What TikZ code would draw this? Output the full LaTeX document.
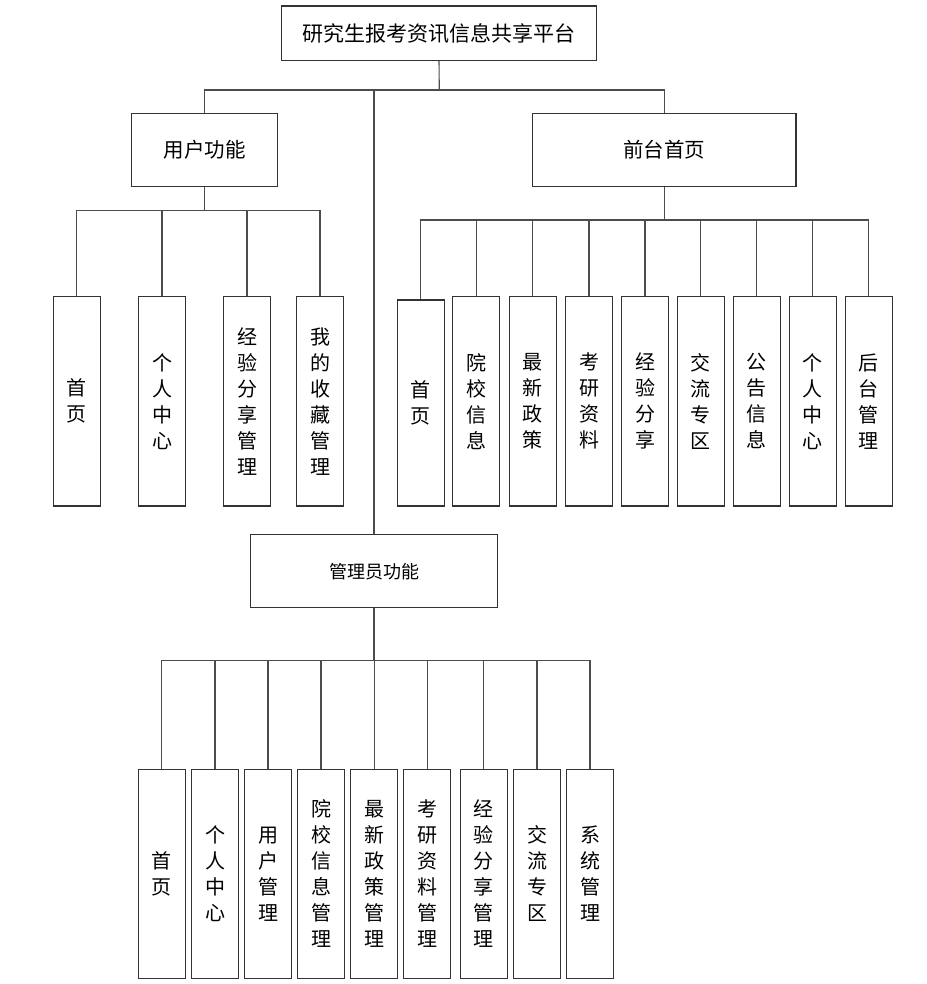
\documentclass[tikz,border=0pt]{standalone}
\usepackage{fontspec}
\newfontfamily\cjk{Noto Sans CJK SC}
\begin{document}
\begin{tikzpicture}[x=1pt,y=-1pt,
  box/.style={draw=black!80, line width=1.1pt, fill=white, inner sep=0pt, align=center},
  topbox/.style={box, font=\cjk\fontsize{21}{24}\selectfont},
  midbox/.style={box, font=\cjk\fontsize{20.5}{24}\selectfont},
  admbox/.style={box, font=\cjk\fontsize{18}{20}\selectfont},
  vbox/.style={box, minimum width=47pt, font=\cjk\fontsize{20}{26}\selectfont},
  conn/.style={draw=black!70, line width=1.1pt}]
\useasboundingbox (0,0) rectangle (926,984);
% top level
\node[topbox, minimum width=315pt, minimum height=54.5pt] (top) at (439,33.3) {研究生报考资讯信息共享平台};
\node[midbox, minimum width=145.6pt, minimum height=73pt] (uf) at (204.5,149.8) {用户功能};
\node[midbox, minimum width=263.3pt, minimum height=73pt] (qt) at (664.3,149.8) {前台首页};
\node[admbox, minimum width=247pt, minimum height=73pt] (gl) at (374,571.2) {管理员功能};
\coordinate (b0) at (439.3,90);
\coordinate (b1) at (204.5,210.3);
\coordinate (b2) at (664.3,220);
\coordinate (b3) at (374,660.7);
% user function children
\node[vbox, minimum height=209.3pt] (u1) at (76.7,401.3) {首\\页};
\node[vbox, minimum height=209.3pt] (u2) at (162,401.3) {个\\人\\中\\心};
\node[vbox, minimum height=209.3pt] (u3) at (247,401.3) {经\\验\\分\\享\\管\\理};
\node[vbox, minimum height=209.3pt] (u4) at (320,401.3) {我\\的\\收\\藏\\管\\理};
% front page children
\node[vbox, minimum height=206pt] (q1) at (420.8,403) {首\\页};
\node[vbox, minimum height=209.3pt] (q2) at (476.3,401.3) {院\\校\\信\\息};
\node[vbox, minimum height=209.3pt] (q3) at (532.7,401.3) {最\\新\\政\\策};
\node[vbox, minimum height=209.3pt] (q4) at (589,401.3) {考\\研\\资\\料};
\node[vbox, minimum height=209.3pt] (q5) at (645,401.3) {经\\验\\分\\享};
\node[vbox, minimum height=209.3pt] (q6) at (700.7,401.3) {交\\流\\专\\区};
\node[vbox, minimum height=209.3pt] (q7) at (756.7,401.3) {公\\告\\信\\息};
\node[vbox, minimum height=209.3pt] (q8) at (812.7,401.3) {个\\人\\中\\心};
\node[vbox, minimum height=209.3pt] (q9) at (868.7,401.3) {后\\台\\管\\理};
% admin children
\node[vbox, minimum height=209.7pt] (g1) at (161.7,873.9) {首\\页};
\node[vbox, minimum height=209.7pt] (g2) at (215,873.9) {个\\人\\中\\心};
\node[vbox, minimum height=209.7pt] (g3) at (268,873.9) {用\\户\\管\\理};
\node[vbox, minimum height=209.7pt] (g4) at (321,873.9) {院\\校\\信\\息\\管\\理};
\node[vbox, minimum height=209.7pt] (g5) at (374.3,873.9) {最\\新\\政\\策\\管\\理};
\node[vbox, minimum height=209.7pt] (g6) at (427.3,873.9) {考\\研\\资\\料\\管\\理};
\node[vbox, minimum height=209.7pt] (g7) at (483.7,873.9) {经\\验\\分\\享\\管\\理};
\node[vbox, minimum height=209.7pt] (g8) at (537,873.9) {交\\流\\专\\区};
\node[vbox, minimum height=209.7pt] (g9) at (590,873.9) {系\\统\\管\\理};
% connectors: top level
\draw[conn] (top.south) -- (b0);
\draw[conn] (uf.north) -- (uf.north |- b0) -- (qt.north |- b0) -- (qt.north);
\draw[conn] (gl.north |- b0) -- (gl.north);
% user function
\draw[conn] (uf.south) -- (b1);
\draw[conn] (u1.north) -- (u1.north |- b1) -- (u4.north |- b1) -- (u4.north);
\foreach \n in {u2,u3} \draw[conn] (\n.north |- b1) -- (\n.north);
% front page
\draw[conn] (qt.south) -- (b2);
\draw[conn] (q1.north) -- (q1.north |- b2) -- (q9.north |- b2) -- (q9.north);
\foreach \n in {q2,q3,q4,q5,q6,q7,q8} \draw[conn] (\n.north |- b2) -- (\n.north);
% admin
\draw[conn] (gl.south) -- (b3);
\draw[conn] (g1.north) -- (g1.north |- b3) -- (g9.north |- b3) -- (g9.north);
\foreach \n in {g2,g3,g4,g5,g6,g7,g8} \draw[conn] (\n.north |- b3) -- (\n.north);
\end{tikzpicture}
\end{document}
